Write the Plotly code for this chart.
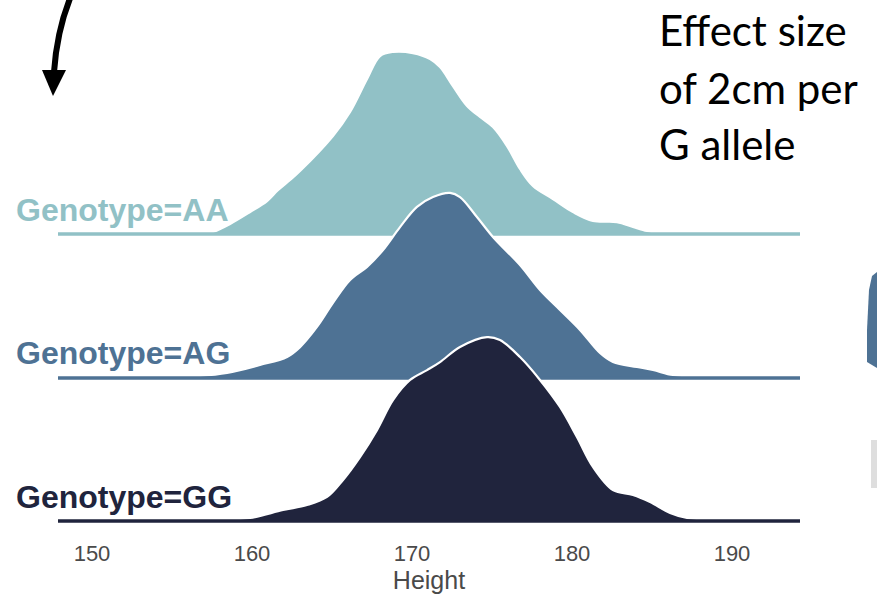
import plotly.graph_objects as go

# ---------------- data ----------------
genotypes = ["Genotype=AA", "Genotype=AG", "Genotype=GG"]
colors = ["#91c1c6", "#4e7294", "#20243d"]

height_AA = [157.1, 157.56, 158.63, 159.88, 160.94, 161.6, 162.38, 163.0, 165.06, 166.13, 167.19,
             168.0, 168.81, 170.06, 171.13, 171.75, 172.56, 173.44, 174.25, 175.06, 175.94,
             176.75, 177.56, 178.81, 180.06, 181.31, 182.81, 183.81, 184.69, 185.5]
density_AA = [0, .0009, .0044, .0096, .0144, .0190, .0236, .0275, .0428, .0533, .0677,
              .0777, .0795, .0790, .0764, .0729, .0646, .0559, .0511, .0467, .0384,
              .0284, .0210, .0153, .0096, .0057, .0052, .0031, .0013, 0]

height_AG = [152.25, 154.25, 156.75, 158.44, 160.5, 162.19, 163.0, 164.06, 165.06, 166.13,
             167.19, 168.19, 169.25, 170.31, 171.31, 172.38, 173.0, 174.06, 175.06, 176.75,
             178.0, 179.25, 180.5, 181.75, 182.56, 184.06, 185.06, 186.31, 188.0, 189.9]
density_AG = [0, .0004, .0009, .0022, .0057, .0092, .0135, .0223, .0328, .0428,
              .0485, .0559, .0659, .0747, .0790, .0808, .0790, .0703, .0616, .0493,
              .0384, .0297, .0210, .0109, .0070, .0048, .0035, .0013, .0004, 0]

height_GG = [155.5, 158.0, 159.88, 161.94, 163.44, 164.69, 165.69, 166.75, 167.81, 168.81,
             169.88, 170.94, 171.75, 173.0, 174.69, 175.5, 176.75, 178.0, 179.25, 180.31,
             181.31, 182.56, 183.81, 184.88, 186.13, 187.19, 189.25, 192.06]
density_GG = [0, .0004, .0013, .0048, .0070, .0105, .0179, .0279, .0397, .0528,
              .0616, .0659, .0694, .0760, .0803, .0790, .0716, .0616, .0498, .0367,
              .0236, .0135, .0114, .0083, .0035, .0013, .0004, 0]

x_ticks = [150, 160, 170, 180, 190]
x_title = "Height"
note_lines = ["Effect size", "of 2cm per", "G allele"]

# ---------------- layout parameters ----------------
W, H = 877, 599
ML, MR, MT, MB = 58, 77, 0, 69
PW, PH = W - ML - MR, H - MT - MB
X_RANGE = [147.875, 194.25]
Y_RANGE = [0, PH]
SCALE = 2290.0                 # axis units per density unit
offsets = [296, 152, 9]        # ridge baselines (axis units)

def px(xp):
    return (xp - ML) / PW

def py(yp):
    return 1 - (yp - MT) / PH

series = [(height_AA, density_AA), (height_AG, density_AG), (height_GG, density_GG)]

fig = go.Figure()
for (hx, dy), col, off in zip(series, colors, offsets):
    xs = [hx[0]] + list(hx) + [hx[-1]]
    ys = [off] + [off + d * SCALE for d in dy] + [off]
    fig.add_trace(go.Scatter(x=xs, y=ys, mode="lines", fill="toself", fillcolor=col,
                             line=dict(color="white", width=2.2, shape="spline", smoothing=1.0),
                             hoverinfo="skip", showlegend=False))
    fig.add_trace(go.Scatter(x=X_RANGE, y=[off, off], mode="lines",
                             line=dict(color=col, width=3.5),
                             hoverinfo="skip", showlegend=False))

annotations = []
label_y = [320, 177, 33]
for name, col, ly in zip(genotypes, colors, label_y):
    annotations.append(dict(text="<b>%s</b>" % name, x=px(14), y=ly, xref="paper", yref="y",
                            xanchor="left", yanchor="middle", showarrow=False,
                            font=dict(family="Liberation Sans, Arial", size=32, color=col)))

for line, yc in zip(note_lines, [30, 88, 144]):
    annotations.append(dict(text=line, x=px(657), y=py(yc), xref="paper", yref="paper",
                            xanchor="left", yanchor="middle", showarrow=False,
                            font=dict(family="Lato", size=42, color="black")))

def pxy(xp, yp):
    return "%.5f,%.5f" % (px(xp), py(yp))

shapes = [
    # curved arrow (slide decoration)
    dict(type="path", xref="paper", yref="paper",
         path="M %s Q %s %s" % (pxy(71, -4), pxy(57, 30), pxy(54, 72)),
         line=dict(color="black", width=6)),
    dict(type="path", xref="paper", yref="paper",
         path="M %s L %s L %s Z" % (pxy(42, 70), pxy(66, 70), pxy(53, 96)),
         fillcolor="black", line=dict(color="black", width=0)),
    # cropped slide elements at right edge
    dict(type="path", xref="paper", yref="paper",
         path="M %s L %s L %s L %s L %s L %s Z" % (pxy(869, 290), pxy(872, 276), pxy(877, 272),
                                                    pxy(877, 368), pxy(867, 362), pxy(867, 330)),
         fillcolor="#4e7294", line=dict(width=0)),
    dict(type="rect", xref="paper", yref="paper", x0=px(871), x1=px(877), y0=py(440), y1=py(488),
         fillcolor="#d6d6d6", line=dict(width=0), opacity=0.8),
]

fig.update_layout(
    width=W, height=H, margin=dict(l=ML, r=MR, t=MT, b=MB),
    paper_bgcolor="white", plot_bgcolor="white",
    annotations=annotations, shapes=shapes,
    xaxis=dict(range=X_RANGE, tickvals=x_ticks, ticktext=[str(t) for t in x_ticks],
               showgrid=False, zeroline=False, showline=False, ticks="",
               ticklabelstandoff=8,
               tickfont=dict(family="Liberation Sans, Arial", size=22, color="#4a4a4a"),
               title=dict(text=x_title, standoff=6,
                          font=dict(family="Liberation Sans, Arial", size=25, color="#4a4a4a"))),
    yaxis=dict(range=Y_RANGE, visible=False, showgrid=False, zeroline=False),
)

fig.write_html("out.html")
